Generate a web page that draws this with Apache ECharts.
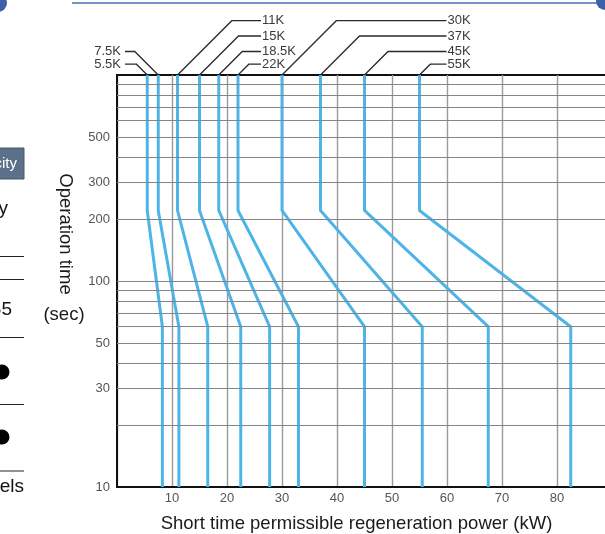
<!DOCTYPE html>
<html>
<head>
<meta charset="utf-8">
<script src="https://cdn.jsdelivr.net/npm/echarts@6/dist/echarts.min.js"></script>
<style>
html,body{margin:0;padding:0;background:#fff;}
#chart{width:605px;height:534px;}
</style>
</head>
<body>
<div id="chart"></div>
<script>
// ---- data ----
const models   = ['5.5K','7.5K','11K','15K','18.5K','22K','30K','37K','45K','55K'];
const ratedKW  = [5.5, 7.5, 11, 15, 18.5, 22, 30, 37, 45, 55];
const shortKW  = [8.25, 11.25, 16.5, 22.5, 27.75, 33, 45, 55.5, 67.5, 82.5];
const timeTop = 1000, timeKnee1 = 220, timeKnee2 = 60, timeBottom = 10;
const labelRow   = [3, 2, 0, 1, 2, 3, 0, 1, 2, 3];
const labelGroup = [0, 0, 1, 1, 1, 1, 2, 2, 2, 2];
const yGridValues  = [10,20,30,40,50,60,70,80,90,100,200,300,400,500,600,700,800,900,1000];
const yTickLabels  = [10,30,50,100,200,300,500];
const xTickLabels  = [10,20,30,40,50,60,70,80];

const BLUE = '#4db4e8';
const FONT = 'Liberation Sans, Arial, sans-serif';

const curveSeries = models.map((m, i) => ({
  name: m,
  type: 'line',
  z: 4,
  symbol: 'none',
  silent: true,
  lineStyle: { color: BLUE, width: 3 },
  data: [
    [ratedKW[i], timeTop],
    [ratedKW[i], timeKnee1],
    [shortKW[i], timeKnee2],
    [shortKW[i], timeBottom]
  ]
}));

const gridSeries = {
  type: 'line',
  z: 1,
  symbol: 'none',
  silent: true,
  data: [[0, 10]],
  lineStyle: { opacity: 0 },
  markLine: {
    silent: true,
    symbol: ['none', 'none'],
    animation: false,
    data: yGridValues.map(v => ({
      yAxis: v,
      lineStyle: { color: (v === 10 || v === 1000) ? 'rgba(0,0,0,0)' : '#858585', width: 1, type: 'solid' },
      label: {
        show: yTickLabels.includes(v),
        position: 'start',
        distance: 7,
        formatter: String(v),
        color: '#555',
        opacity: 1,
        fontSize: 13,
        fontFamily: FONT
      }
    }))
  }
};

const rowDy = [54.3, 39, 23.5, 10.8];
const groupTextX = [121, 262, 447.5];

const leaderSeries = {
  type: 'custom',
  z: 5,
  silent: true,
  clip: false,
  data: models.map((m, i) => [ratedKW[i], timeTop, labelRow[i], labelGroup[i], i]),
  encode: { x: 0, y: 1 },
  renderItem: function (params, api) {
    const p = api.coord([api.value(0), api.value(1)]);
    const dy = rowDy[api.value(2)];
    const g = api.value(3);
    const name = models[api.value(4)];
    const y = p[1] - dy;
    let pts, text;
    if (g === 0) {
      pts = [[p[0], p[1]], [p[0] - dy, y], [125, y]];
      text = { x: groupTextX[0], y: y, text: name, align: 'right' };
    } else {
      pts = [[p[0], p[1]], [p[0] + dy, y], [groupTextX[g] - 1, y]];
      text = { x: groupTextX[g], y: y, text: name, align: 'left' };
    }
    return {
      type: 'group',
      children: [
        { type: 'polyline', shape: { points: pts }, style: { stroke: '#2a2a2a', lineWidth: 1.3, fill: null } },
        { type: 'text', style: Object.assign(text, { verticalAlign: 'middle', fill: '#3a3a3a', font: '13px ' + FONT }) }
      ]
    };
  }
};

const chart = echarts.init(document.getElementById('chart'), null, { renderer: 'canvas' });
chart.setOption({
  animation: false,
  backgroundColor: '#fff',
  grid: { left: 117, top: 75, width: 495, height: 412, show: true, borderColor: '#111', borderWidth: 2, containLabel: false, outerBoundsMode: 'none' },
  xAxis: {
    type: 'value', min: 0, max: 90, interval: 10,
    axisLine: { show: true, lineStyle: { color: '#111', width: 2 } },
    axisTick: { show: false },
    axisLabel: {
      margin: 5, color: '#555', fontSize: 13, fontFamily: FONT,
      formatter: v => xTickLabels.includes(v) ? String(v) : ''
    },
    splitLine: { show: true, lineStyle: { color: '#9a9a9a', width: 1.4 } },
    name: 'Short time permissible regeneration power (kW)',
    nameLocation: 'middle',
    nameGap: 27,
    nameTextStyle: { color: '#1a1a1a', fontSize: 18.5, fontFamily: FONT, padding: [0, 16, 0, 0] }
  },
  yAxis: {
    type: 'log', logBase: 10, min: 10, max: 1000,
    axisLine: { show: true, lineStyle: { color: '#111', width: 2 } },
    axisTick: { show: false },
    axisLabel: { show: false },
    splitLine: { show: false }
  },
  graphic: [
    { type: 'text', x: 65, y: 234, rotation: -Math.PI / 2, style: { text: 'Operation time', align: 'center', verticalAlign: 'middle', fill: '#1a1a1a', font: '18.5px ' + FONT } },
    { type: 'text', x: 64, y: 315, style: { text: '(sec)', align: 'center', verticalAlign: 'middle', fill: '#1a1a1a', font: '18.5px ' + FONT } },
    // decorative page fragments
    { type: 'line', shape: { x1: 72, y1: 3, x2: 598, y2: 3 }, style: { stroke: '#4a6db5', lineWidth: 1.5 } },
    { type: 'circle', shape: { cx: -2, cy: 3, r: 9 }, style: { fill: '#3e5fa8' } },
    { type: 'circle', shape: { cx: 605, cy: 1, r: 9 }, style: { fill: '#3e5fa8' } },
    { type: 'rect', shape: { x: -2, y: 148, width: 26, height: 31 }, style: { fill: '#5c7189', stroke: '#46586d', lineWidth: 1 } },
    { type: 'text', x: 17, y: 164, style: { text: 'city', align: 'right', verticalAlign: 'middle', fill: '#fff', font: '15px ' + FONT } },
    { type: 'text', x: 8, y: 209, style: { text: 'y', align: 'right', verticalAlign: 'middle', fill: '#111', font: '19px ' + FONT } },
    { type: 'line', shape: { x1: 0, y1: 256.5, x2: 24, y2: 256.5 }, style: { stroke: '#222', lineWidth: 1 } },
    { type: 'line', shape: { x1: 0, y1: 279.5, x2: 24, y2: 279.5 }, style: { stroke: '#222', lineWidth: 1 } },
    { type: 'text', x: 12, y: 310, style: { text: '55', align: 'right', verticalAlign: 'middle', fill: '#111', font: '19px ' + FONT } },
    { type: 'line', shape: { x1: 0, y1: 337.5, x2: 24, y2: 337.5 }, style: { stroke: '#222', lineWidth: 1 } },
    { type: 'circle', shape: { cx: 2, cy: 372, r: 7.5 }, style: { fill: '#000' } },
    { type: 'line', shape: { x1: 0, y1: 404.5, x2: 24, y2: 404.5 }, style: { stroke: '#222', lineWidth: 1 } },
    { type: 'circle', shape: { cx: 2, cy: 437, r: 7.5 }, style: { fill: '#000' } },
    { type: 'line', shape: { x1: 0, y1: 471, x2: 24, y2: 471 }, style: { stroke: '#222', lineWidth: 1 } },
    { type: 'text', x: 24, y: 487, style: { text: 'els', align: 'right', verticalAlign: 'middle', fill: '#111', font: '19px ' + FONT } }
  ],
  series: [gridSeries].concat(curveSeries, [leaderSeries])
});
</script>
</body>
</html>
